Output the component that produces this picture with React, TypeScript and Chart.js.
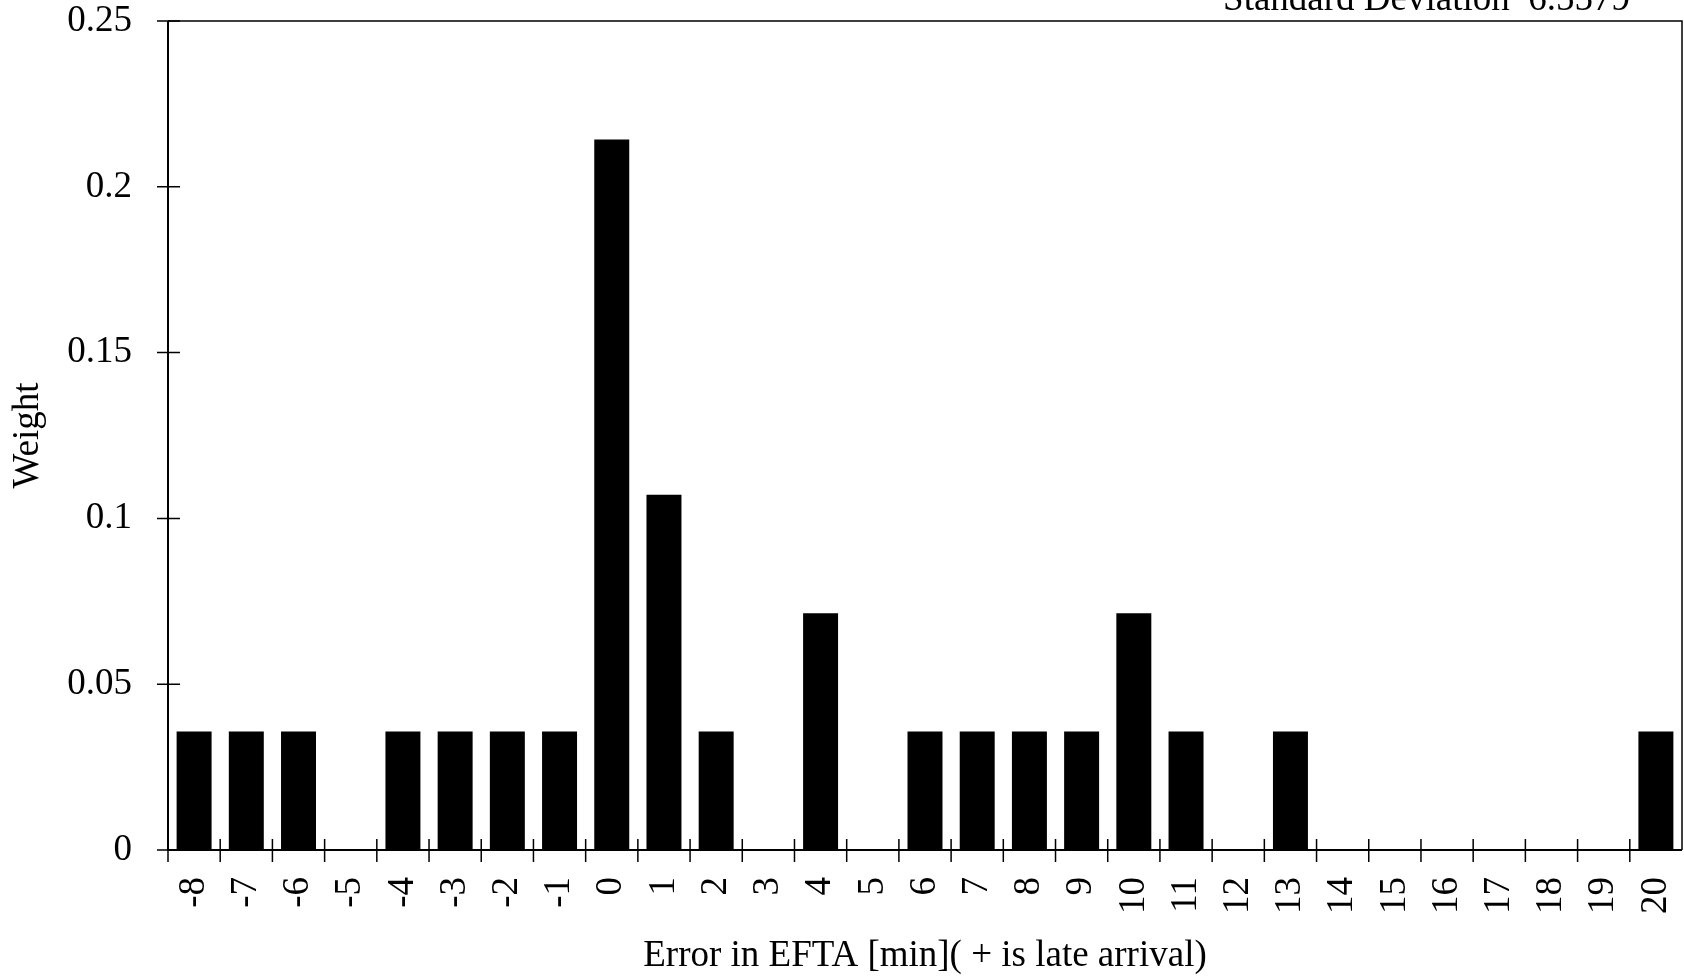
import React, { useEffect, useRef } from "react";
import { Chart, registerables } from "chart.js";

Chart.register(...registerables);

const categories: string[] = [
  "-8", "-7", "-6", "-5", "-4", "-3", "-2", "-1", "0", "1", "2", "3", "4", "5", "6",
  "7", "8", "9", "10", "11", "12", "13", "14", "15", "16", "17", "18", "19", "20",
];

const weights: number[] = [
  0.0357, 0.0357, 0.0357, 0, 0.0357, 0.0357, 0.0357, 0.0357, 0.2143, 0.1071, 0.0357, 0, 0.0714, 0, 0.0357,
  0.0357, 0.0357, 0.0357, 0.0714, 0.0357, 0, 0.0357, 0, 0, 0, 0, 0, 0, 0.0357,
];

const yTicks: number[] = [0, 0.05, 0.1, 0.15, 0.2, 0.25];

const xTitle = "Error in EFTA [min]( + is late arrival)";
const yTitle = "Weight";
const cornerNote = "Standard Deviation  6.5579";

const FONT = "'Liberation Serif', 'Times New Roman', Times, serif";
const FS = 37;

const framePlugin = {
  id: "frameTicks",
  afterDraw(chart: any) {
    const { ctx, chartArea, scales } = chart;
    const x = scales.x;
    const y = scales.y;
    ctx.save();
    ctx.strokeStyle = "#000";
    ctx.lineWidth = 1.5;
    ctx.beginPath();
    ctx.moveTo(chartArea.left, chartArea.top);
    ctx.lineTo(chartArea.right, chartArea.top);
    ctx.lineTo(chartArea.right, chartArea.bottom);
    ctx.stroke();
    ctx.lineWidth = 2;
    ctx.beginPath();
    ctx.moveTo(chartArea.left, chartArea.top);
    ctx.lineTo(chartArea.left, chartArea.bottom);
    ctx.lineTo(chartArea.right, chartArea.bottom);
    ctx.stroke();
    ctx.lineWidth = 1.5;
    ctx.beginPath();
    for (let i = 0; i <= categories.length - 1; i++) {
      const px = x.getPixelForValue(i - 0.5);
      ctx.moveTo(px, chartArea.bottom - 11);
      ctx.lineTo(px, chartArea.bottom + 12);
    }
    for (const v of yTicks) {
      const py = y.getPixelForValue(v);
      ctx.moveTo(chartArea.left - 11, py);
      ctx.lineTo(chartArea.left + 12, py);
    }
    ctx.stroke();
    ctx.fillStyle = "#000";
    ctx.font = `${FS}px ${FONT}`;
    ctx.textAlign = "right";
    ctx.textBaseline = "alphabetic";
    ctx.fillText(cornerNote, chartArea.right - 52, 10);
    ctx.restore();
  },
};

export default function App() {
  const canvasRef = useRef<HTMLCanvasElement | null>(null);

  useEffect(() => {
    const canvas = canvasRef.current;
    if (!canvas) return;
    Chart.defaults.font.family = FONT;
    Chart.defaults.color = "#000";
    const chart = new Chart(canvas, {
      type: "bar",
      data: {
        labels: categories,
        datasets: [
          {
            data: weights,
            backgroundColor: "#000",
            borderWidth: 0,
            barPercentage: 0.67,
            categoryPercentage: 1,
          },
        ],
      },
      options: {
        responsive: false,
        animation: false,
        layout: { padding: { top: 21, right: 2, left: 0, bottom: 0 } },
        plugins: {
          legend: { display: false },
          tooltip: { enabled: false },
        },
        scales: {
          x: {
            type: "category",
            offset: true,
            grid: { display: false, drawTicks: false },
            border: { display: false },
            ticks: {
              autoSkip: false,
              minRotation: 90,
              maxRotation: 90,
              padding: 27,
              font: { size: FS, family: FONT },
              color: "#000",
            },
            title: {
              display: true,
              text: xTitle,
              font: { size: FS, family: FONT },
              color: "#000",
              padding: { top: 0, bottom: 2 },
            },
            afterFit(scale: any) {
              scale.height = 130;
              scale.paddingLeft = 0;
              scale.paddingRight = 0;
            },
          },
          y: {
            min: 0,
            max: 0.25,
            grid: { display: false, drawTicks: false },
            border: { display: false },
            afterBuildTicks(scale: any) {
              scale.ticks = yTicks.map((v) => ({ value: v }));
            },
            ticks: {
              padding: 36,
              font: { size: FS, family: FONT },
              color: "#000",
              callback: (v: any) => String(Number(Number(v).toFixed(2))),
            },
            title: {
              display: true,
              text: yTitle,
              font: { size: FS, family: FONT },
              color: "#000",
              padding: { top: 6, bottom: 0 },
            },
            afterFit(scale: any) {
              scale.width = 168;
              scale.paddingTop = 0;
              scale.paddingBottom = 0;
            },
          },
        },
      },
      plugins: [framePlugin],
    });
    return () => chart.destroy();
  }, []);

  return (
    <div style={{ position: "absolute", left: 0, top: 0, width: 1684, height: 980, background: "#fff" }}>
      <canvas ref={canvasRef} width={1684} height={980} />
    </div>
  );
}
